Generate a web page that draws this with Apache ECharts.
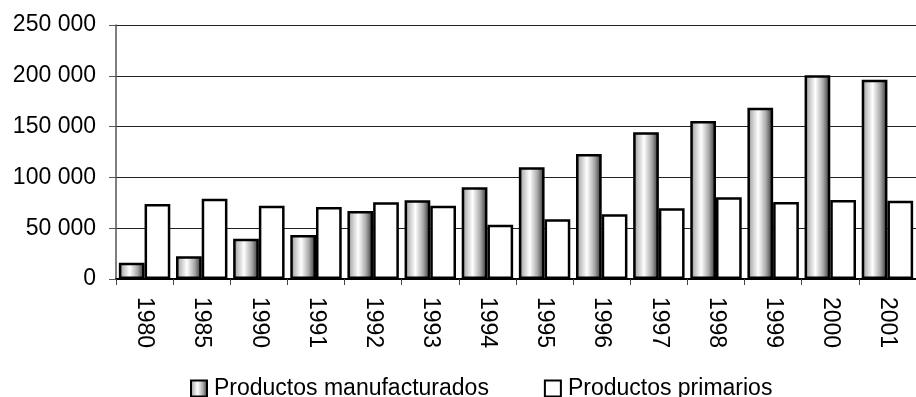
<!DOCTYPE html>
<html>
<head>
<meta charset="utf-8">
<script src="https://cdn.jsdelivr.net/npm/echarts@6/dist/echarts.min.js"></script>
<style>
  html, body { margin: 0; padding: 0; background: #fff; }
  #chart { width: 916px; height: 397px; }
</style>
</head>
<body>
<div id="chart"></div>
<script>
// Years on the category axis
const years = ['1980', '1985', '1990', '1991', '1992', '1993', '1994', '1995', '1996', '1997', '1998', '1999', '2000', '2001'];
// Manufactured exports
const manufacturados = [16000, 22500, 39700, 43300, 66900, 77500, 90300, 110000, 123000, 144400, 155500, 168600, 200500, 196200];
// Primary products exports
const primarios = [73800, 79000, 72100, 70900, 75500, 72200, 53500, 58800, 63700, 69600, 80400, 75800, 77800, 77100];
// Value axis ticks
const yTicks = [0, 50000, 100000, 150000, 200000, 250000];

const FONT = '"Liberation Sans", Arial, sans-serif';

// Cylinder-like horizontal shading for the manufactured bars
const cylinder = new echarts.graphic.LinearGradient(0, 0, 1, 0, [
  { offset: 0, color: '#7a7a7a' },
  { offset: 0.15, color: '#bcbcbc' },
  { offset: 0.42, color: '#ffffff' },
  { offset: 0.72, color: '#aaaaaa' },
  { offset: 1, color: '#2a2a2a' }
]);

function fmt(v) {
  return String(v).replace(/\B(?=(\d{3})+(?!\d))/g, ' ');
}

const chart = echarts.init(document.getElementById('chart'), null, { renderer: 'canvas' });
chart.setOption({
  animation: false,
  backgroundColor: '#ffffff',
  textStyle: { fontFamily: FONT },
  grid: { left: 116, top: 25, width: 808, height: 254, containLabel: false },
  legend: {
    left: 190,
    top: 377,
    padding: 0,
    itemWidth: 16,
    itemHeight: 16,
    itemGap: 55,
    icon: 'rect',
    textStyle: { fontFamily: FONT, fontSize: 23, color: '#000', padding: [0, 0, 0, 2] },
    data: ['Productos manufacturados', 'Productos primarios']
  },
  xAxis: {
    type: 'category',
    data: years,
    boundaryGap: true,
    axisLine: { show: true, lineStyle: { color: '#000', width: 2 } },
    axisTick: { show: true, length: 6, lineStyle: { color: '#444', width: 1 } },
    axisLabel: {
      rotate: -90,
      margin: 18,
      interval: 0,
      fontFamily: FONT,
      fontSize: 23,
      color: '#000'
    }
  },
  yAxis: {
    type: 'value',
    min: yTicks[0],
    max: yTicks[yTicks.length - 1],
    interval: yTicks[1] - yTicks[0],
    axisLine: { show: true, lineStyle: { color: '#555', width: 1.5 } },
    axisTick: { show: true, inside: false, length: 7, lineStyle: { color: '#555', width: 1 } },
    splitLine: { show: true, lineStyle: { color: '#222', width: 1 } },
    axisLabel: {
      margin: 20,
      fontFamily: FONT,
      fontSize: 23,
      color: '#000',
      formatter: fmt
    }
  },
  series: [
    {
      name: 'Productos manufacturados',
      type: 'bar',
      data: manufacturados,
      barGap: '0%',
      barCategoryGap: '10%',
      itemStyle: { color: cylinder, borderColor: '#000', borderWidth: 2.5 }
    },
    {
      name: 'Productos primarios',
      type: 'bar',
      data: primarios,
      barGap: '0%',
      barCategoryGap: '10%',
      itemStyle: { color: '#ffffff', borderColor: '#000', borderWidth: 2.5 }
    }
  ]
});
</script>
</body>
</html>
